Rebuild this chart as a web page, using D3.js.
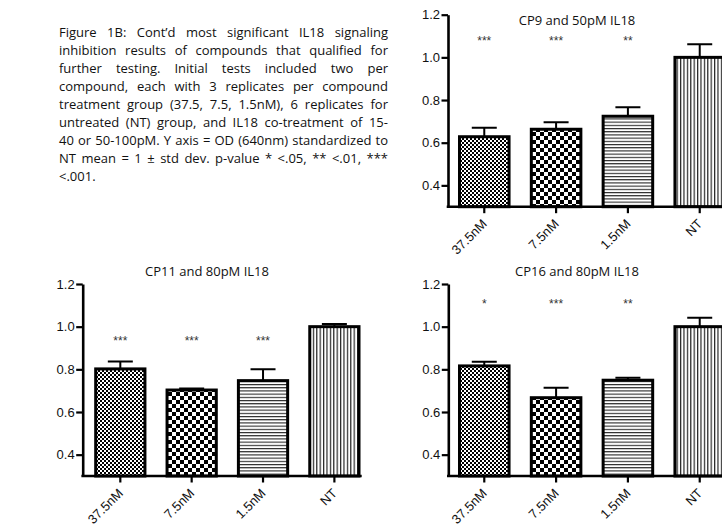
<!DOCTYPE html>
<html>
<head>
<meta charset="utf-8">
<script src="https://cdn.jsdelivr.net/npm/d3@7"></script>
<style>
  html, body { margin: 0; padding: 0; background: #fff; }
  svg { display: block; }
</style>
</head>
<body>
<svg id="fig" width="722" height="529"></svg>
<script>
// Treatment groups shared by every panel
const categories = ["37.5nM", "7.5nM", "1.5nM", "NT"];
const yTicks = [0.4, 0.6, 0.8, 1.0, 1.2];

// CP9 with 50pM IL18 (OD standardized to NT mean = 1)
const cp9Means = [0.628, 0.663, 0.724, 1.0];
const cp9Sd    = [0.042, 0.033, 0.042, 0.061];
const cp9Stars = ["***", "***", "**", ""];

// CP11 with 80pM IL18
const cp11Means = [0.802, 0.703, 0.747, 1.0];
const cp11Sd    = [0.035, 0.007, 0.053, 0.013];
const cp11Stars = ["***", "***", "***", ""];

// CP16 with 80pM IL18
const cp16Means = [0.816, 0.667, 0.749, 1.0];
const cp16Sd    = [0.020, 0.047, 0.012, 0.042];
const cp16Stars = ["*", "***", "**", ""];

const captionLines = [
  "Figure 1B: Cont\u2019d most significant IL18 signaling",
  "inhibition results of compounds that qualified for",
  "further testing. Initial tests included two per",
  "compound, each with 3 replicates per compound",
  "treatment group (37.5, 7.5, 1.5nM), 6 replicates for",
  "untreated (NT) group, and  IL18 co-treatment of 15-",
  "40 or 50-100pM. Y axis = OD (640nm) standardized to",
  "NT mean = 1 \u00b1 std dev. p-value * <.05, ** <.01, ***",
  "<.001."
];

const svg = d3.select("#fig");

// ---- fill patterns for the four groups ----
const defs = svg.append("defs");
function checker(id, s) {
  const p = defs.append("pattern").attr("id", id)
    .attr("patternUnits", "userSpaceOnUse").attr("width", 2 * s).attr("height", 2 * s);
  p.append("rect").attr("width", 2 * s).attr("height", 2 * s).attr("fill", "#fff");
  p.append("rect").attr("width", s).attr("height", s).attr("fill", "#000");
  p.append("rect").attr("x", s).attr("y", s).attr("width", s).attr("height", s).attr("fill", "#000");
}
checker("fineCheck", 2);
checker("coarseCheck", 4);
{
  const p = defs.append("pattern").attr("id", "hLines")
    .attr("patternUnits", "userSpaceOnUse").attr("width", 6).attr("height", 3.2);
  p.append("rect").attr("width", 6).attr("height", 3.2).attr("fill", "#fff");
  p.append("rect").attr("y", 0).attr("width", 6).attr("height", 1.1).attr("fill", "#222");
}
{
  const p = defs.append("pattern").attr("id", "vLines")
    .attr("patternUnits", "userSpaceOnUse").attr("width", 3.4).attr("height", 6);
  p.append("rect").attr("width", 3.4).attr("height", 6).attr("fill", "#fff");
  p.append("rect").attr("x", 0).attr("width", 1.2).attr("height", 6).attr("fill", "#222");
}
const fills = ["url(#fineCheck)", "url(#coarseCheck)", "url(#hLines)", "url(#vLines)"];

// ---- caption, justified line by line ----
const capLeft = 59, capRight = 388, capTop = 36.6, capLead = 18;
const capG = svg.append("g")
  .style("font-family", "'Open Sans', 'Noto Sans', sans-serif")
  .style("font-size", "13px").attr("fill", "#111");
captionLines.forEach((line, i) => {
  const words = line.split(/\s+/);
  const y = capTop + i * capLead;
  const nodes = words.map(w => capG.append("text").attr("y", y).text(w));
  const widths = nodes.map(n => n.node().getComputedTextLength());
  const total = d3.sum(widths);
  const last = i === captionLines.length - 1;
  const gap = last ? 3.4 : (capRight - capLeft - total) / (words.length - 1);
  let x = capLeft;
  nodes.forEach((n, k) => { n.attr("x", x); x += widths[k] + gap; });
});

// ---- panels ----
const panels = [
  { title: "CP9 and 50pM IL18", means: cp9Means, sd: cp9Sd, stars: cp9Stars,
    x0: 448, yTop: 14.7, yBottom: 206.7, barStart: 459.5, barEnd: 724.5, xEnd: 740,
    titleX: 577, titleY: 24.5, starLevel: 1.089 },
  { title: "CP11 and 80pM IL18", means: cp11Means, sd: cp11Sd, stars: cp11Stars,
    x0: 82.7, yTop: 284, yBottom: 476, barStart: 95.7, barEnd: 359, xEnd: 361.7,
    titleX: 207, titleY: 276, starLevel: 0.946 },
  { title: "CP16 and 80pM IL18", means: cp16Means, sd: cp16Sd, stars: cp16Stars,
    x0: 448.3, yTop: 284, yBottom: 476, barStart: 459.5, barEnd: 724.5, xEnd: 740,
    titleX: 577, titleY: 276, starLevel: 1.12 }
];

panels.forEach(p => {
  const g = svg.append("g");
  const y = d3.scaleLinear().domain([0.3, 1.2]).range([p.yBottom, p.yTop]);
  const x = d3.scaleBand().domain(categories).range([p.barStart, p.barEnd])
    .paddingInner(0.31).paddingOuter(0);

  const rows = categories.map((c, i) => ({ c, i, m: p.means[i], s: p.sd[i], star: p.stars[i] }));

  // bars
  g.selectAll("rect.bar").data(rows).join("rect").attr("class", "bar")
    .attr("x", d => x(d.c))
    .attr("width", x.bandwidth())
    .attr("y", d => y(d.m))
    .attr("height", d => y(0.3) - y(d.m))
    .attr("fill", d => fills[d.i])
    .attr("stroke", "#000").attr("stroke-width", 3);

  // upper error bars (mean + sd)
  const cap = 25;
  g.selectAll("path.err").data(rows).join("path").attr("class", "err")
    .attr("d", d => {
      const cx = x(d.c) + x.bandwidth() / 2;
      return `M${cx},${y(d.m)}V${y(d.m + d.s)}M${cx - cap / 2},${y(d.m + d.s)}H${cx + cap / 2}`;
    })
    .attr("fill", "none").attr("stroke", "#000").attr("stroke-width", 2);

  // significance marks
  g.selectAll("text.star").data(rows.filter(d => d.star)).join("text").attr("class", "star")
    .attr("x", d => x(d.c) + x.bandwidth() / 2)
    .attr("y", y(p.starLevel) + 7)
    .attr("text-anchor", "middle")
    .style("font-family", "'Liberation Sans', Arial, sans-serif")
    .style("font-size", "12px").attr("fill", "#333")
    .text(d => d.star);

  // y axis
  const ya = g.append("g").attr("transform", `translate(${p.x0},0)`)
    .call(d3.axisLeft(y).tickValues(yTicks).tickFormat(d3.format(".1f"))
      .tickSize(6.5).tickSizeOuter(0).tickPadding(1.5));
  ya.select(".domain").attr("stroke-width", 2.6).attr("stroke", "#000");
  ya.selectAll(".tick line").attr("stroke-width", 2.2).attr("stroke", "#000");
  ya.selectAll(".tick text")
    .style("font-family", "'Liberation Sans', Arial, sans-serif")
    .style("font-size", "13px").attr("fill", "#111");

  // x axis
  const xa = g.append("g").attr("transform", `translate(0,${p.yBottom})`)
    .call(d3.axisBottom(x).tickSize(6.5).tickSizeOuter(0));
  xa.select(".domain").remove();
  xa.append("line").attr("x1", p.x0 - 1.3).attr("x2", p.xEnd)
    .attr("stroke", "#000").attr("stroke-width", 2.6);
  xa.selectAll(".tick line").attr("stroke-width", 2.2).attr("stroke", "#000");
  xa.selectAll(".tick text")
    .attr("x", 0).attr("y", 0).attr("dy", null)
    .attr("transform", "translate(3.5,18) rotate(-45)")
    .style("text-anchor", "end")
    .style("font-family", "'Liberation Sans', Arial, sans-serif")
    .style("font-size", "13px").attr("fill", "#111");

  // title
  g.append("text").attr("x", p.titleX).attr("y", p.titleY)
    .attr("text-anchor", "middle")
    .style("font-family", "'Open Sans', 'Noto Sans', sans-serif")
    .style("font-size", "13px").attr("fill", "#111")
    .text(p.title);
});
</script>
</body>
</html>
